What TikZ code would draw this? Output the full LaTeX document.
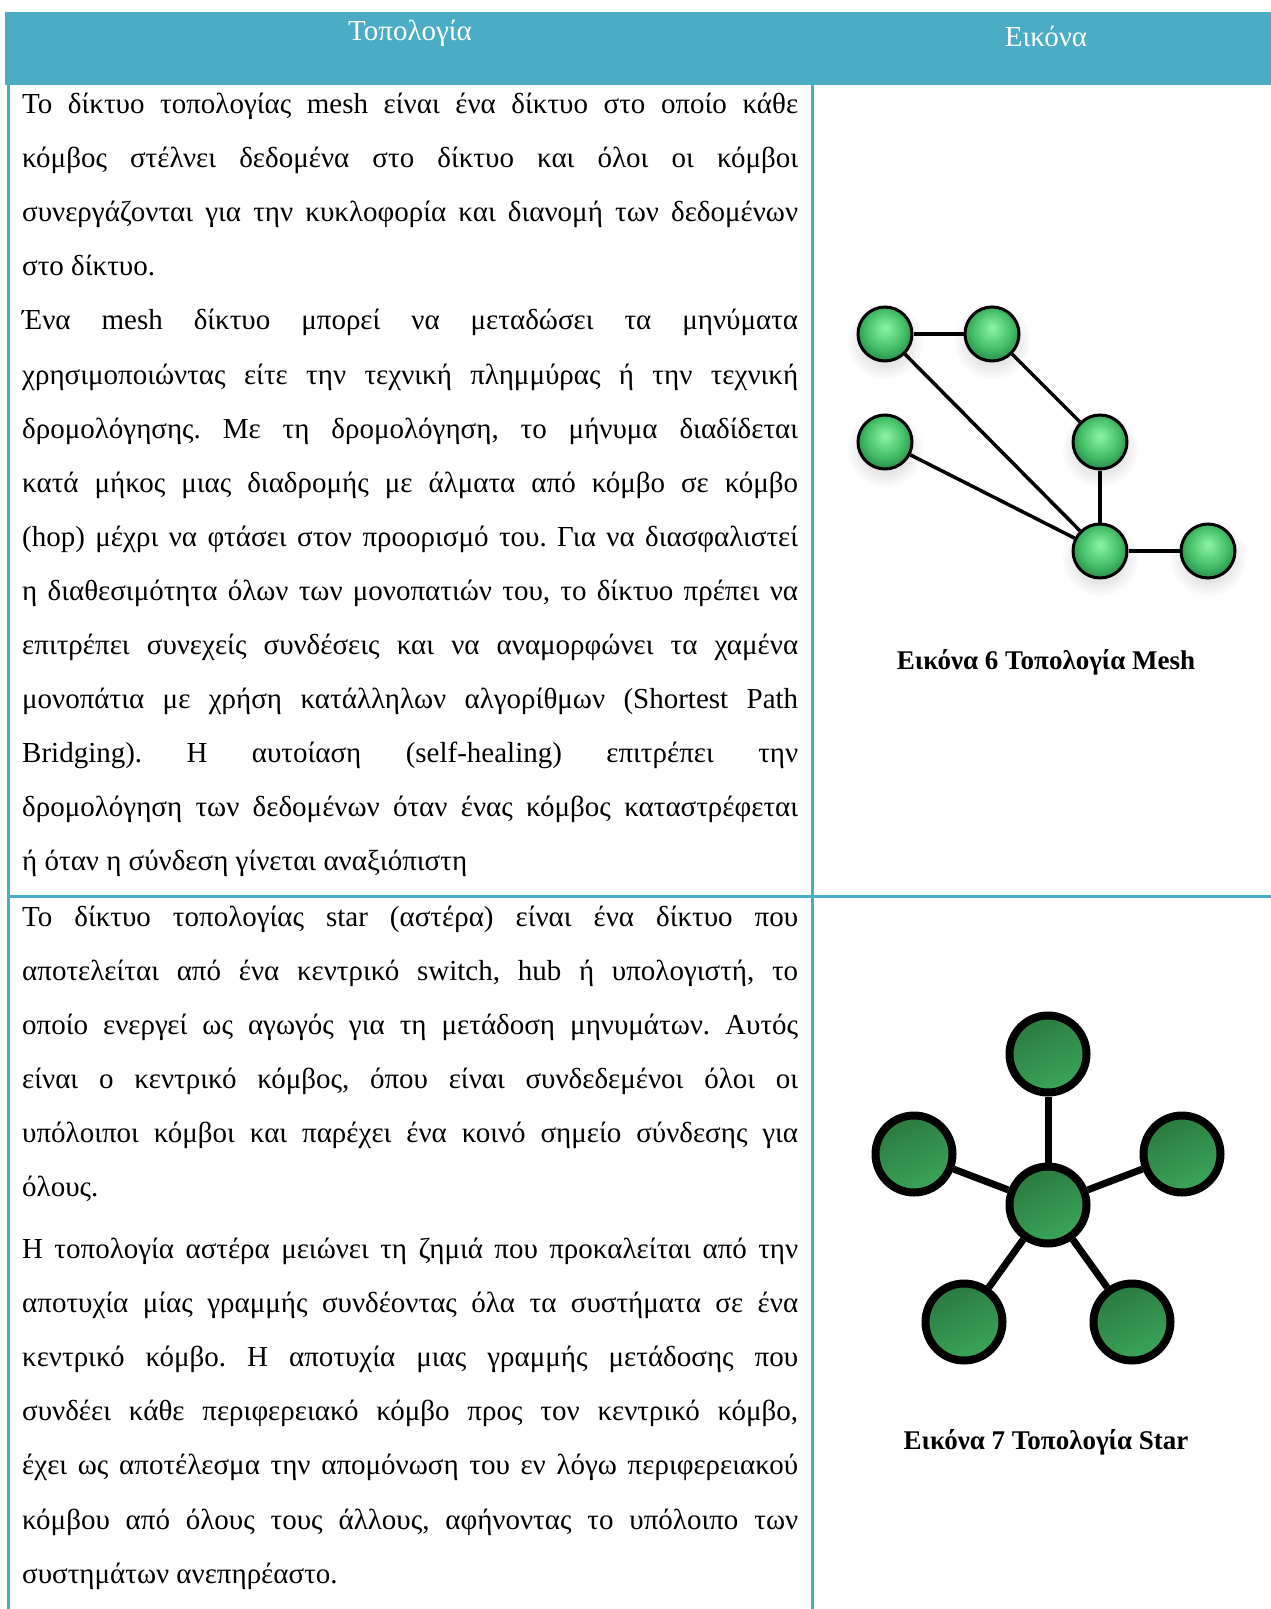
\documentclass[tikz,border=0pt]{standalone}
\usepackage{fontspec}
\setmainfont{Liberation Serif}
\usetikzlibrary{shadings}
\definecolor{hdr}{HTML}{4BACC6}
\definecolor{mlight}{HTML}{8CF5A2}
\definecolor{mmid}{HTML}{45BE68}
\definecolor{mdark}{HTML}{1E7F40}
\definecolor{stop}{HTML}{2A7A3E}
\definecolor{sbot}{HTML}{3BA65A}
\pgfdeclareradialshading{meshball}{\pgfpoint{0bp}{6bp}}{color(0bp)=(mlight); color(18bp)=(mmid); color(31bp)=(mdark); color(50bp)=(mdark)}
\pgfdeclareradialshading{meshshadow}{\pgfpoint{0bp}{0bp}}{color(0bp)=(black!13); color(15bp)=(black!10); color(25bp)=(white); color(50bp)=(white)}
\newcommand\jline[1]{\makebox[776pt][s]{#1}}
\frenchspacing
\tikzset{
  txt/.style={anchor=base west, inner sep=0pt, font=\fontsize{29}{34}\selectfont},
  hdrtxt/.style={inner sep=0pt, text=white, font=\fontsize{29}{34}\selectfont},
  captxt/.style={inner sep=0pt, font=\bfseries\fontsize{27}{31}\selectfont},
  border/.style={draw=hdr, line width=3pt},
  meshnode/.style={circle, draw=black, line width=3pt, minimum size=54pt, inner sep=0pt, shading=meshball},
  meshedge/.style={draw=black, line width=3.5pt},
  starnode/.style={circle, draw=black, line width=8pt, minimum size=77pt, inner sep=0pt, shading=axis, top color=stop, bottom color=sbot, shading angle=25},
  staredge/.style={draw=black, line width=7pt}
}
\begin{document}
\begin{tikzpicture}[x=1pt,y=-1pt]
\useasboundingbox (0,0) rectangle (1271,1609);
% header
\fill[hdr] (5,12) rectangle (1271,85);
\node[hdrtxt] (h1) at (410,33) {Τοπολογία};
\node[hdrtxt] (h2) at (1046,36) {Εικόνα};
% borders
\draw[border] (8,85) -- (8,1609);
\draw[border] (812,85) -- (812,1609);
\draw[border] (8,896) -- (1271,896);
% row 1 text
\node[txt] (a1) at (22,113.6) {\jline{Το δίκτυο τοπολογίας mesh είναι ένα δίκτυο στο οποίο κάθε}};
\node[txt] (a2) at (22,167.7) {\jline{κόμβος στέλνει δεδομένα στο δίκτυο και όλοι οι κόμβοι}};
\node[txt] (a3) at (22,221.8) {\jline{συνεργάζονται για την κυκλοφορία και διανομή των δεδομένων}};
\node[txt] (a4) at (22,275.8) {στο δίκτυο.};
\node[txt] (a5) at (22,329.9) {\jline{Ένα mesh δίκτυο μπορεί να μεταδώσει τα μηνύματα}};
\node[txt] (a6) at (22,384.0) {\jline{χρησιμοποιώντας είτε την τεχνική πλημμύρας ή την τεχνική}};
\node[txt] (a7) at (22,438.1) {\jline{δρομολόγησης. Με τη δρομολόγηση, το μήνυμα διαδίδεται}};
\node[txt] (a8) at (22,492.2) {\jline{κατά μήκος μιας διαδρομής με άλματα από κόμβο σε κόμβο}};
\node[txt] (a9) at (22,546.2) {\jline{(hop) μέχρι να φτάσει στον προορισμό του. Για να διασφαλιστεί}};
\node[txt] (a10) at (22,600.3) {\jline{η διαθεσιμότητα όλων των μονοπατιών του, το δίκτυο πρέπει να}};
\node[txt] (a11) at (22,654.4) {\jline{επιτρέπει συνεχείς συνδέσεις και να αναμορφώνει τα χαμένα}};
\node[txt] (a12) at (22,708.5) {\jline{μονοπάτια με χρήση κατάλληλων αλγορίθμων (Shortest Path}};
\node[txt] (a13) at (22,762.6) {\jline{Bridging). Η αυτοίαση (self-healing) επιτρέπει την}};
\node[txt] (a14) at (22,816.6) {\jline{δρομολόγηση των δεδομένων όταν ένας κόμβος καταστρέφεται}};
\node[txt] (a15) at (22,870.7) {ή όταν η σύνδεση γίνεται αναξιόπιστη};
% row 2 text
\node[txt] (b1) at (22,926.0) {\jline{Το δίκτυο τοπολογίας star (αστέρα) είναι ένα δίκτυο που}};
\node[txt] (b2) at (22,980.1) {\jline{αποτελείται από ένα κεντρικό switch, hub ή υπολογιστή, το}};
\node[txt] (b3) at (22,1034.2) {\jline{οποίο ενεργεί ως αγωγός για τη μετάδοση μηνυμάτων. Αυτός}};
\node[txt] (b4) at (22,1088.2) {\jline{είναι ο κεντρικό κόμβος, όπου είναι συνδεδεμένοι όλοι οι}};
\node[txt] (b5) at (22,1142.3) {\jline{υπόλοιποι κόμβοι και παρέχει ένα κοινό σημείο σύνδεσης για}};
\node[txt] (b6) at (22,1196.4) {όλους.};
\node[txt] (b7) at (22,1258.6) {\jline{Η τοπολογία αστέρα μειώνει τη ζημιά που προκαλείται από την}};
\node[txt] (b8) at (22,1312.7) {\jline{αποτυχία μίας γραμμής συνδέοντας όλα τα συστήματα σε ένα}};
\node[txt] (b9) at (22,1366.8) {\jline{κεντρικό κόμβο. Η αποτυχία μιας γραμμής μετάδοσης που}};
\node[txt] (b10) at (22,1420.8) {\jline{συνδέει κάθε περιφερειακό κόμβο προς τον κεντρικό κόμβο,}};
\node[txt] (b11) at (22,1474.9) {\jline{έχει ως αποτέλεσμα την απομόνωση του εν λόγω περιφερειακού}};
\node[txt] (b12) at (22,1529.0) {\jline{κόμβου από όλους τους άλλους, αφήνοντας το υπόλοιπο των}};
\node[txt] (b13) at (22,1583.1) {συστημάτων ανεπηρέαστο.};
% mesh graph
\foreach \p in {(885,334),(992,334),(885,442),(1100,442),(1100,551),(1208,551)}
  \shade[shading=meshshadow] \p ++(0,7) circle[radius=39];
\node[meshnode] (m1) at (885,334) {};
\node[meshnode] (m2) at (992,334) {};
\node[meshnode] (m3) at (885,442) {};
\node[meshnode] (m4) at (1100,442) {};
\node[meshnode] (m5) at (1100,551) {};
\node[meshnode] (m6) at (1208,551) {};
\draw[meshedge] (m1) -- (m2);
\draw[meshedge] (m2) -- (m4);
\draw[meshedge] (m1) -- (m5);
\draw[meshedge] (m3) -- (m5);
\draw[meshedge] (m4) -- (m5);
\draw[meshedge] (m5) -- (m6);
\node[captxt] (c1) at (1046,662) {Εικόνα 6 Τοπολογία Mesh};
% star graph
\node[starnode] (s0) at (1048,1205) {};
\node[starnode] (s1) at (1048,1054) {};
\node[starnode] (s2) at (914,1154) {};
\node[starnode] (s3) at (1182,1154) {};
\node[starnode] (s4) at (964,1322) {};
\node[starnode] (s5) at (1132,1322) {};
\foreach \t in {s1,s2,s3,s4,s5}
  \draw[staredge] (s0) -- (\t);
\node[captxt] (c2) at (1046,1442) {Εικόνα 7 Τοπολογία Star};
\end{tikzpicture}
\end{document}
